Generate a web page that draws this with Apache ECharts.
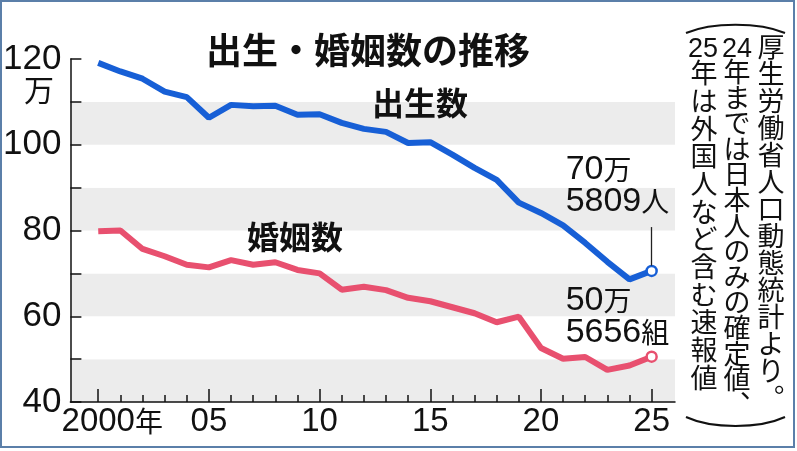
<!DOCTYPE html>
<html><head><meta charset="utf-8">
<script src="https://cdn.jsdelivr.net/npm/echarts@6.0.0/dist/echarts.min.js"></script>
<style>html,body{margin:0;padding:0;background:#fff}#c{width:797px;height:451px}</style>
</head><body><div id="c"></div>
<script>
// ---- data ----
const years = [2000,2001,2002,2003,2004,2005,2006,2007,2008,2009,2010,2011,2012,2013,2014,2015,2016,2017,2018,2019,2020,2021,2022,2023,2024,2025];
const births = [119.1,117.1,115.4,112.4,111.1,106.3,109.3,109.0,109.1,107.0,107.1,105.1,103.7,103.0,100.4,100.6,97.7,94.6,91.8,86.5,84.1,81.2,77.1,72.7,68.6,70.5809];
const marriages = [79.8,80.0,75.7,74.0,72.0,71.4,73.1,72.0,72.6,70.8,70.0,66.2,66.9,66.1,64.3,63.5,62.1,60.7,58.6,59.9,52.6,50.1,50.5,47.5,48.5,50.5656];
const xLabelYears = [2000,2005,2010,2015,2020,2025];
const xLabelTexts = ['2000','05','10','15','20','25'];
const yLabelValues = [40,60,80,100,120];
const birthEnd = ['70','万','5809','人'];
const marriageEnd = ['50','万','5656','組'];
const titleText = '出生・婚姻数の推移';
const seriesNames = ['出生数','婚姻数'];
const unitText = '万';
const noteRight = ['厚','生','労','働','省','人','口','動','態','統','計','よ','り','︒'];
const noteMiddleDigits = '24';
const noteMiddle = ['年','ま','で','は','日','本','人','の','み','の','確','定','値','︑'];
const noteLeftDigits = '25';
const noteLeft = ['年','は','外','国','人','な','ど','含','む','速','報','値'];
const leaderRange = [71.8, 80.8];

// ---- style ----
const JP = '"Noto Sans CJK JP", sans-serif';
const NUM = '"Liberation Sans", Arial, sans-serif';
const NARROW = '"Liberation Sans Narrow", "Liberation Sans", sans-serif';
const BLUE = '#175fd6';
const RED = '#e8506f';
const XMIN = 1998.742, XMAX = 2026.056;

function endPoint(value, year, color, parts, offY) {
  return {
    value: [year, value], symbol: 'circle', symbolSize: 10,
    itemStyle: {color: '#fff', borderColor: color, borderWidth: 2.5},
    label: {
      show: true, position: 'top', align: 'left', offset: [-86, offY],
      formatter: '{n|' + parts[0] + '}{u|' + parts[1] + '}\n{n|' + parts[2] + '}{u|' + parts[3] + '}',
      rich: {
        n: {fontFamily: NUM, fontSize: 34, color: '#111', lineHeight: 32},
        u: {fontFamily: JP, fontSize: 28, color: '#111', lineHeight: 32}
      }
    }
  };
}

const birthData = years.map((y, i) => [y, births[i]]);
birthData[birthData.length - 1] = endPoint(births[births.length - 1], years[years.length - 1], BLUE, birthEnd, -42.5);
const marriageData = years.map((y, i) => [y, marriages[i]]);
marriageData[marriageData.length - 1] = endPoint(marriages[marriages.length - 1], years[years.length - 1], RED, marriageEnd, 3);

function vcol(chars, x, y, lh) {
  return {type: 'text', z: 10, style: {text: chars.join('\n'), x: x, y: y, align: 'center', verticalAlign: 'top', font: '27px ' + JP, lineHeight: lh, fill: '#111'}};
}
function vdigits(t, x, y) {
  return {type: 'text', z: 10, style: {text: t, x: x, y: y, align: 'center', verticalAlign: 'middle', font: '27px ' + NUM, fill: '#111'}};
}

const chart = echarts.init(document.getElementById('c'), null, {renderer: 'canvas'});
chart.setOption({
  animation: false,
  backgroundColor: '#fff',
  grid: {left: 67, right: 122, top: 59, bottom: 49, containLabel: false},
  xAxis: [{
    type: 'value', min: XMIN, max: XMAX, position: 'bottom',
    axisLine: {show: true, lineStyle: {color: '#111', width: 1.5}},
    axisTick: {show: true, inside: true, length: 13, customValues: xLabelYears, lineStyle: {color: '#111', width: 1.5}},
    axisLabel: {
      show: true, margin: 3, customValues: xLabelYears,
      formatter: function (v) {
        const i = xLabelYears.indexOf(Math.round(v));
        if (i < 0) return '';
        if (i === 0) return '{p|　}{n|' + xLabelTexts[0] + '}{u|年}';
        return '{n|' + xLabelTexts[i] + '}';
      },
      rich: {
        n: {fontFamily: NUM, fontSize: 33, color: '#111'},
        u: {fontFamily: JP, fontSize: 28, color: '#111'},
        p: {fontFamily: JP, fontSize: 28, width: 28}
      }
    },
    splitLine: {show: false}
  }, {
    type: 'value', min: XMIN, max: XMAX, position: 'bottom',
    axisLine: {show: false},
    axisTick: {show: true, inside: true, length: 7, customValues: years, lineStyle: {color: '#111', width: 1.5}},
    axisLabel: {show: false},
    splitLine: {show: false}
  }],
  yAxis: {
    type: 'value', min: 40, max: 120, interval: 10,
    axisLine: {show: true, lineStyle: {color: '#111', width: 1.5}},
    axisTick: {show: true, inside: true, length: 11, lineStyle: {color: '#111', width: 1.5}},
    axisLabel: {
      margin: 9, fontFamily: NARROW, fontSize: 35, color: '#111', padding: [0, 0, 8, 0],
      formatter: v => yLabelValues.includes(v) ? String(v) : ''
    },
    splitLine: {show: false},
    splitArea: {show: true, areaStyle: {color: ['#ececec', '#ffffff']}}
  },
  series: [{
    name: seriesNames[0], type: 'line', xAxisIndex: 0, data: birthData,
    symbol: 'none', showSymbol: true, lineStyle: {color: BLUE, width: 6}, itemStyle: {color: BLUE},
    z: 3,
    markLine: {
      silent: true, symbol: ['none', 'none'], label: {show: false},
      lineStyle: {color: '#222', width: 1.3, type: 'solid'},
      data: [[{coord: [years[years.length - 1], leaderRange[0]]}, {coord: [years[years.length - 1], leaderRange[1]]}]]
    }
  }, {
    name: seriesNames[1], type: 'line', xAxisIndex: 0, data: marriageData,
    symbol: 'none', showSymbol: true, lineStyle: {color: RED, width: 6}, itemStyle: {color: RED},
    z: 3
  }],
  graphic: [
    {type: 'text', z: 10, style: {text: titleText, x: 368, y: 50, align: 'center', verticalAlign: 'middle', font: 'bold 36px ' + JP, fill: '#111'}},
    {type: 'text', z: 10, style: {text: seriesNames[0], x: 420, y: 103, align: 'center', verticalAlign: 'middle', font: 'bold 32px ' + JP, fill: '#111'}},
    {type: 'text', z: 10, style: {text: seriesNames[1], x: 295, y: 237, align: 'center', verticalAlign: 'middle', font: 'bold 32px ' + JP, fill: '#111'}},
    {type: 'text', z: 10, style: {text: unitText, x: 39, y: 90, align: 'center', verticalAlign: 'middle', font: '30px ' + JP, fill: '#111'}},
    vcol(noteRight, 771, 33, 27),
    vdigits(noteMiddleDigits, 737, 50),
    vcol(noteMiddle, 737, 59, 25.6),
    vdigits(noteLeftDigits, 703, 50),
    vcol(noteLeft, 704, 59, 27.7),
    {type: 'bezierCurve', z: 10, shape: {x1: 686, y1: 33, cpx1: 712, cpy1: 22, cpx2: 759, cpy2: 22, x2: 785, y2: 33}, style: {stroke: '#111', lineWidth: 2, fill: null}},
    {type: 'bezierCurve', z: 10, shape: {x1: 686, y1: 417, cpx1: 712, cpy1: 429, cpx2: 759, cpy2: 429, x2: 785, y2: 417}, style: {stroke: '#111', lineWidth: 2, fill: null}},
    {type: 'rect', z: 11, shape: {x: 1, y: 1, width: 793, height: 446}, style: {stroke: '#5b7fa9', lineWidth: 2, fill: null}}
  ]
});
</script>
</body></html>
